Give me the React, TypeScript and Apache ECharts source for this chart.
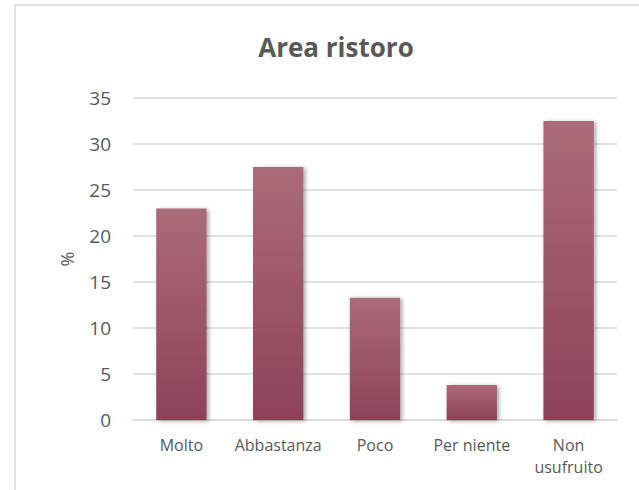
import React, { useEffect, useRef } from "react";
import * as echarts from "echarts";

const title = "Area ristoro";
const categories = ["Molto", "Abbastanza", "Poco", "Per niente", "Non\nusufruito"];
const values = [23.0, 27.5, 13.3, 3.8, 32.5];
const yTicks = { min: 0, max: 35, interval: 5 };
const yName = "%";

export default function App() {
  const ref = useRef<HTMLDivElement>(null);
  useEffect(() => {
    if (!ref.current) return;
    const chart = echarts.init(ref.current, undefined, { renderer: "svg" });
    const font = "'Open Sans', 'Noto Sans', sans-serif";
    chart.setOption({
      animation: false,
      backgroundColor: "#ffffff",
      textStyle: { fontFamily: font },
      title: {
        text: title,
        left: 331,
        textAlign: "center",
        top: 29,
        textStyle: { fontSize: 26, fontWeight: "bold", color: "#595959", fontFamily: font },
      },
      graphic: [
        {
          type: "rect",
          shape: { x: 15, y: 5, width: 700, height: 600 },
          style: { fill: "none", stroke: "#d9d9d9", lineWidth: 1.5 },
          silent: true,
          z: -1,
        },
      ],
      grid: { left: 133, right: 22, top: 98, bottom: 70, containLabel: false },
      xAxis: {
        type: "category",
        data: categories,
        axisLine: { show: true, lineStyle: { color: "#d9d9d9", width: 1.5 } },
        axisTick: { show: false },
        axisLabel: {
          color: "#595959",
          fontSize: 16,
          margin: 14,
          lineHeight: 22,
          interval: 0,
          fontFamily: font,
        },
      },
      yAxis: {
        type: "value",
        min: yTicks.min,
        max: yTicks.max,
        interval: yTicks.interval,
        name: yName,
        nameLocation: "middle",
        nameGap: 57,
        nameRotate: 90,
        nameTextStyle: { color: "#595959", fontSize: 18, fontFamily: font },
        axisLine: { show: false },
        axisTick: { show: false },
        axisLabel: { color: "#595959", fontSize: 19, margin: 22, fontFamily: font },
        splitLine: { lineStyle: { color: "#d9d9d9", width: 1.5 } },
      },
      series: [
        {
          type: "bar",
          data: values,
          barWidth: "52%",
          itemStyle: {
            color: new echarts.graphic.LinearGradient(0, 0, 0, 1, [
              { offset: 0, color: "#aa6b79" },
              { offset: 1, color: "#8d4259" },
            ]),
            shadowBlur: 4,
            shadowColor: "rgba(0,0,0,0.35)",
            shadowOffsetX: 2,
            shadowOffsetY: 1,
          },
        },
      ],
    });
    return () => chart.dispose();
  }, []);
  return (
    <div
      ref={ref}
      style={{ position: "fixed", left: 0, top: 0, width: 639, height: 490 }}
    />
  );
}
